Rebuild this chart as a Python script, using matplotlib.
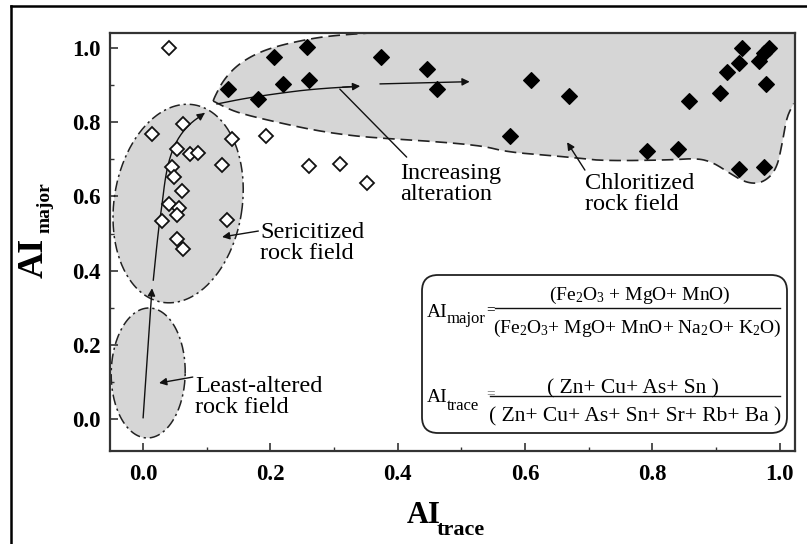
import numpy as np
import matplotlib.pyplot as plt
import matplotlib.transforms as mtransforms
from matplotlib.patches import FancyBboxPatch, Polygon
from matplotlib.lines import Line2D
from matplotlib.ticker import MultipleLocator

plt.rcParams['font.family'] = 'serif'
plt.rcParams['font.serif'] = ['Liberation Serif', 'DejaVu Serif']
plt.rcParams['mathtext.fontset'] = 'custom'
plt.rcParams['mathtext.rm'] = 'Liberation Serif'
plt.rcParams['mathtext.it'] = 'Liberation Serif:italic'
plt.rcParams['mathtext.bf'] = 'Liberation Serif:bold'

# sericitized / weakly altered samples (open symbols)
ser_trace = [0.041, 0.014, 0.063, 0.139, 0.054, 0.074, 0.087, 0.124, 0.046, 0.049, 0.061,
             0.040, 0.057, 0.053, 0.030, 0.131, 0.053, 0.063, 0.193, 0.260, 0.310, 0.351]
ser_major = [1.000, 0.767, 0.795, 0.756, 0.729, 0.713, 0.716, 0.685, 0.680, 0.653, 0.615,
             0.580, 0.568, 0.550, 0.535, 0.538, 0.485, 0.458, 0.763, 0.683, 0.687, 0.635]

# chloritized samples (filled symbols)
chl_trace = [0.134, 0.181, 0.205, 0.219, 0.257, 0.260, 0.374, 0.446, 0.461, 0.609, 0.669,
             0.576, 0.791, 0.840, 0.858, 0.906, 0.917, 0.936, 0.941, 0.968, 0.975, 0.983,
             0.979, 0.936, 0.976]
chl_major = [0.888, 0.862, 0.976, 0.903, 1.001, 0.913, 0.976, 0.942, 0.888, 0.913, 0.871,
             0.763, 0.723, 0.727, 0.858, 0.879, 0.934, 0.958, 0.999, 0.964, 0.985, 0.999,
             0.902, 0.673, 0.680]

# outline of the chloritized field (lower edge from the tip, upper edge from the tip)
chl_lower = [(0.110, 0.857), (0.137, 0.833), (0.163, 0.819), (0.215, 0.798), (0.267, 0.779),
             (0.320, 0.765), (0.372, 0.757), (0.424, 0.752), (0.529, 0.738), (0.571, 0.720),
             (0.634, 0.711), (0.686, 0.703), (0.722, 0.696), (0.827, 0.698), (0.870, 0.703),
             (0.895, 0.692), (0.921, 0.663), (0.948, 0.636), (0.973, 0.636), (0.995, 0.671),
             (1.005, 0.752), (1.011, 0.814), (1.022, 0.850)]
chl_upper = [(0.110, 0.857), (0.113, 0.870), (0.126, 0.913), (0.148, 0.954), (0.179, 0.986),
             (0.215, 1.007), (0.267, 1.026), (0.305, 1.034), (0.372, 1.042)]

# alteration trend
trend_up = [(0.016, 0.375), (0.024, 0.509), (0.030, 0.582), (0.035, 0.652), (0.042, 0.706),
            (0.053, 0.752), (0.071, 0.793), (0.097, 0.825)]
trend_right = [(0.116, 0.849), (0.163, 0.865), (0.215, 0.878), (0.267, 0.889), (0.341, 0.897)]

GRAY = '#d6d6d6'
W, H = 807, 544
XLIM = (-0.052, 1.024)
YLIM = (-0.085, 1.040)

fig = plt.figure(figsize=(W / 100, H / 100), dpi=100)
fig.patch.set_facecolor('white')
# pixel coordinates measured from the top-left corner
px = mtransforms.Affine2D().scale(0.01, -0.01).translate(0, H / 100) + fig.dpi_scale_trans

ax = fig.add_axes([110 / W, 1 - 451 / H, 685 / W, 418 / H])
ax.set_xlim(*XLIM)
ax.set_ylim(*YLIM)
xs = 685 / (XLIM[1] - XLIM[0])
ys = 418 / (YLIM[1] - YLIM[0])


def ellipse(cx, cy, a, b, tilt):
    # a, b are semi-axes in pixels, tilt in degrees clockwise from vertical
    t = np.linspace(0, 2 * np.pi, 300)
    u, v = a * np.cos(t), b * np.sin(t)
    th = np.radians(-tilt)
    ur = u * np.cos(th) - v * np.sin(th)
    vr = u * np.sin(th) + v * np.cos(th)
    return cx + ur / xs, cy + vr / ys


def smooth(pts, n=3):
    p = np.asarray(pts, float)
    for _ in range(n):
        q = 0.75 * p[:-1] + 0.25 * p[1:]
        r = 0.25 * p[:-1] + 0.75 * p[1:]
        mid = np.empty((2 * len(q), 2))
        mid[0::2], mid[1::2] = q, r
        p = np.vstack([p[:1], mid, p[-1:]])
    return p


dashdot = (0, (7, 2.5, 1.5, 2.5))

# least-altered and sericitized fields
for cx, cy, a, b, tilt in [(0.008, 0.125, 37, 65, 1), (0.055, 0.581, 64, 100, 9)]:
    ex, ey = ellipse(cx, cy, a, b, tilt)
    ax.fill(ex, ey, color=GRAY, zorder=1, lw=0)
    ax.plot(ex, ey, color='#222222', lw=1.1, ls=dashdot, zorder=2)

# chloritized field
low = smooth(chl_lower)
up = smooth(chl_upper)
poly = np.vstack([low, [(1.05, 0.85), (1.05, 1.06), (0.372, 1.06)], up[::-1]])
ax.add_patch(Polygon(poly, closed=True, facecolor=GRAY, edgecolor='none', zorder=1))
ax.plot(low[:, 0], low[:, 1], color='#222222', lw=1.2, ls=(0, (7, 3.5)), zorder=2)
ax.plot(up[:, 0], up[:, 1], color='#222222', lw=1.2, ls=(0, (7, 3.5)), zorder=2)

# trend arrows
arrow = dict(arrowstyle='-|>', color='#111111', lw=1.0, mutation_scale=11, shrinkA=0, shrinkB=0)
line = dict(arrowstyle='-', color='#111111', lw=1.0, shrinkA=0, shrinkB=0)
ax.annotate('', xy=(0.014, 0.353), xytext=(0.0, 0.004), arrowprops=arrow, zorder=3)
for path in (trend_up, trend_right):
    p = smooth(path, 2)
    ax.plot(p[:-1, 0], p[:-1, 1], color='#111111', lw=1.0, zorder=3)
    ax.annotate('', xy=tuple(p[-1]), xytext=tuple(p[-4]), arrowprops=arrow, zorder=3)
ax.annotate('', xy=(0.513, 0.909), xytext=(0.372, 0.903), arrowprops=arrow, zorder=3)

# samples
ax.plot(ser_trace, ser_major, ls='none', marker='D', ms=7.4, mfc='white', mec='#111111',
        mew=1.3, zorder=4, clip_on=False)
ax.plot(chl_trace, chl_major, ls='none', marker='D', ms=7.8, mfc='black', mec='black',
        mew=0.8, zorder=4, clip_on=False)

# field labels
lab = dict(fontsize=17.5, va='center', ha='left', linespacing=1.0, zorder=5)
ax.text(0.184, 0.476, 'Sericitized\nrock field', **lab)
ax.annotate('', xy=(0.124, 0.491), xytext=(0.181, 0.507), arrowprops=arrow, zorder=5)
ax.text(0.082, 0.059, 'Least-altered\nrock field', **lab)
ax.annotate('', xy=(0.025, 0.098), xytext=(0.078, 0.114), arrowprops=arrow, zorder=5)
ax.text(0.403, 0.633, 'Increasing\nalteration', **lab)
ax.annotate('', xy=(0.309, 0.889), xytext=(0.414, 0.706), arrowprops=line, zorder=5)
ax.text(0.694, 0.606, 'Chloritized\nrock field', **lab)
ax.annotate('', xy=(0.666, 0.746), xytext=(0.694, 0.671), arrowprops=arrow, zorder=5)

# axes styling
for s in ax.spines.values():
    s.set_linewidth(1.6)
    s.set_color('#333333')
ax.xaxis.set_major_locator(MultipleLocator(0.2))
ax.yaxis.set_major_locator(MultipleLocator(0.2))
ax.xaxis.set_minor_locator(MultipleLocator(0.1))
ax.yaxis.set_minor_locator(MultipleLocator(0.1))
ax.tick_params(which='major', direction='in', length=6, width=1.2, color='#333333')
ax.tick_params(which='minor', direction='in', length=3, width=1.0, color='#333333')
ax.tick_params(axis='x', pad=9)
ax.tick_params(axis='y', pad=7)
ax.xaxis.set_major_formatter(plt.FormatStrFormatter('%.1f'))
ax.yaxis.set_major_formatter(plt.FormatStrFormatter('%.1f'))
for t in ax.get_xticklabels() + ax.get_yticklabels():
    t.set_fontsize(16.5)
    t.set_fontweight('bold')

# axis titles
fig.text(407, 523, 'AI', transform=px, fontsize=22, fontweight='bold', ha='left', va='baseline')
fig.text(437, 535, 'trace', transform=px, fontsize=16, fontweight='bold', ha='left', va='baseline')
fig.text(43, 278, 'AI', transform=px, fontsize=26, fontweight='bold', rotation=90,
         rotation_mode='anchor', ha='left', va='baseline')
fig.text(50, 233, 'major', transform=px, fontsize=14, fontweight='bold', rotation=90,
         rotation_mode='anchor', ha='left', va='baseline')

# index definitions
fig.add_artist(FancyBboxPatch((422, 275), 365, 158, boxstyle='round,pad=0,rounding_size=16',
                              transform=px, facecolor='white', edgecolor='#222222', lw=1.3))
fig.text(427, 317, 'AI', transform=px, fontsize=14, ha='left', va='baseline')
fig.text(447, 323, 'major', transform=px, fontsize=12, ha='left', va='baseline')
fig.text(486, 313, '=', transform=px, fontsize=11, ha='left', va='baseline')
fig.text(640, 300, r'(Fe$_2$O$_3$ + MgO+ MnO)', transform=px, fontsize=14, ha='center',
         va='baseline')
fig.add_artist(Line2D([495, 780], [308, 308], transform=px, color='#111111', lw=1.0))
fig.text(637, 333, r'(Fe$_2$O$_3$+ MgO+ MnO+ Na$_2$O+ K$_2$O)', transform=px, fontsize=14,
         ha='center', va='baseline')

fig.text(427, 402, 'AI', transform=px, fontsize=14, ha='left', va='baseline')
fig.text(447, 410, 'trace', transform=px, fontsize=12, ha='left', va='baseline')
fig.text(486, 397, '=', transform=px, fontsize=11, ha='left', va='baseline', color='#777777')
fig.text(633, 393, '( Zn+ Cu+ As+ Sn )', transform=px, fontsize=15.5, ha='center', va='baseline')
fig.add_artist(Line2D([490, 780], [396, 396], transform=px, color='#111111', lw=1.0))
fig.text(635, 421, '( Zn+ Cu+ As+ Sn+ Sr+ Rb+ Ba )', transform=px, fontsize=15.5, ha='center',
         va='baseline')

# outer frame
fig.add_artist(Line2D([11, 11], [6, H + 5], transform=px, color='black', lw=1.8))
fig.add_artist(Line2D([11, W + 5], [6, 6], transform=px, color='black', lw=1.8))

fig.savefig('out.png', dpi=100, facecolor='white')
